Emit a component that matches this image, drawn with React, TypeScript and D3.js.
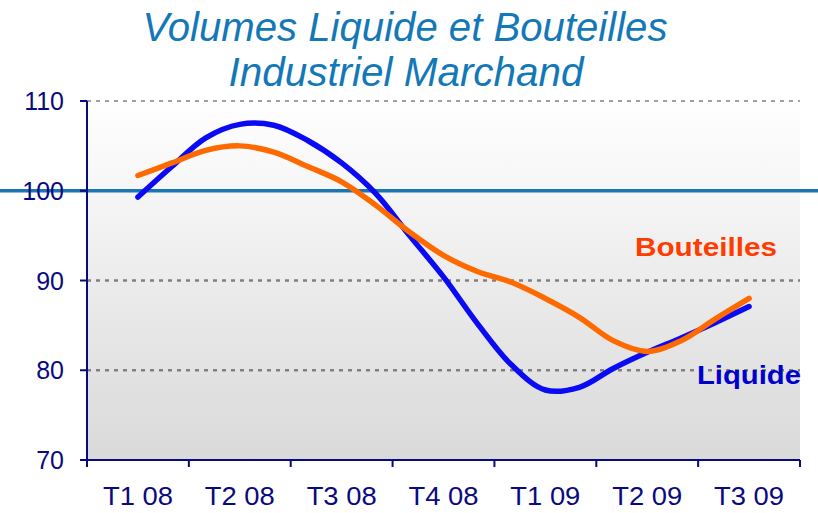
import React from "react";
import * as d3 from "d3";

const quarters = ["T1 08", "T2 08", "T3 08", "T4 08", "T1 09", "T2 09", "T3 09"];
const yTicks = [70, 80, 90, 100, 110];
const gridValues = [80, 90, 110];
const referenceValue = 100;
// monthly values, from mid T1 08 to mid T3 09
const liquide = [99.3, 102.7, 105.9, 107.4, 107.3, 105.6, 103.1, 99.7, 95.0, 90.4, 85.2, 80.6, 77.8, 78.1, 80.2, 82.0, 83.6, 85.3, 87.1];
const bouteilles = [101.7, 103.1, 104.5, 105.0, 104.3, 102.7, 101.0, 98.4, 95.4, 92.8, 91.0, 89.8, 88.0, 85.9, 83.3, 82.1, 83.3, 85.7, 88.0];

const W = 818;
const H = 513;
const left = 87;
const right = 800;
const top = 101;
const bottom = 460;
const navy = "#0a0a80";

export default function App() {
  const x = d3.scaleLinear().domain([0, quarters.length]).range([left, right]);
  const y = d3.scaleLinear().domain([70, 110]).range([bottom, top]);
  const pos = (i: number) => x(0.5 + i / 3);
  const line = d3
    .line<number>()
    .x((_, i) => pos(i))
    .y((d) => y(d))
    .curve(d3.curveCatmullRom.alpha(0.5));

  const tickXs = d3.range(quarters.length + 1).map((i) => x(i));

  return (
    <svg width={W} height={H} style={{ position: "absolute", left: 0, top: 0, background: "#fff" }} fontFamily="'Liberation Sans', Arial, sans-serif">
      <defs>
        <linearGradient id="bg" x1="0" y1="0" x2="0" y2="1">
          <stop offset="0" stopColor="#ffffff" />
          <stop offset="1" stopColor="#d9d9d9" />
        </linearGradient>
      </defs>
      <text x={405} y={41} textAnchor="middle" fontSize={40} fontStyle="italic" fill="#1378b8" textLength={525} lengthAdjust="spacingAndGlyphs">
        Volumes Liquide et Bouteilles
      </text>
      <text x={406} y={86} textAnchor="middle" fontSize={40} fontStyle="italic" fill="#1378b8" textLength={355} lengthAdjust="spacingAndGlyphs">
        Industriel Marchand
      </text>

      <rect x={left} y={top} width={right - left} height={bottom - top} fill="url(#bg)" />

      {gridValues.map((v) => (
        <line key={v} x1={left} x2={right} y1={y(v)} y2={y(v)} stroke="#808080" strokeWidth={v === 110 ? 1.5 : 2.5} strokeDasharray="4,5" />
      ))}

      <line x1={0} x2={W} y1={y(referenceValue)} y2={y(referenceValue)} stroke="#1b75b0" strokeWidth={3.5} />

      <path d={line(liquide) || ""} fill="none" stroke="#0a0af5" strokeWidth={5.5} strokeLinecap="round" strokeLinejoin="round" />
      <path d={line(bouteilles) || ""} fill="none" stroke="#ff6a00" strokeWidth={5.5} strokeLinecap="round" strokeLinejoin="round" />

      {/* axes */}
      <line x1={left} x2={left} y1={top} y2={bottom} stroke={navy} strokeWidth={2} />
      <line x1={left - 7} x2={right} y1={bottom} y2={bottom} stroke={navy} strokeWidth={2} />
      {yTicks.map((v) => (
        <g key={v}>
          <line x1={left - 7} x2={left} y1={y(v)} y2={y(v)} stroke={navy} strokeWidth={2} />
          <text x={64} y={y(v) + 9} textAnchor="end" fontSize={25} fill={navy}>
            {v}
          </text>
        </g>
      ))}
      {tickXs.map((tx, i) => (
        <line key={i} x1={tx} x2={tx} y1={bottom} y2={bottom + 7} stroke={navy} strokeWidth={2} />
      ))}
      {quarters.map((q, i) => (
        <text key={q} x={x(i + 0.5)} y={505} textAnchor="middle" fontSize={26} fill={navy} textLength={70} lengthAdjust="spacingAndGlyphs">
          {q}
        </text>
      ))}

      <text x={635} y={256} fontSize={26} fontWeight="bold" fill="#ff3c00" textLength={142} lengthAdjust="spacingAndGlyphs">
        Bouteilles
      </text>
      <text x={697} y={384} fontSize={26} fontWeight="bold" fill="#0000cc" textLength={104} lengthAdjust="spacingAndGlyphs">
        Liquide
      </text>
    </svg>
  );
}
